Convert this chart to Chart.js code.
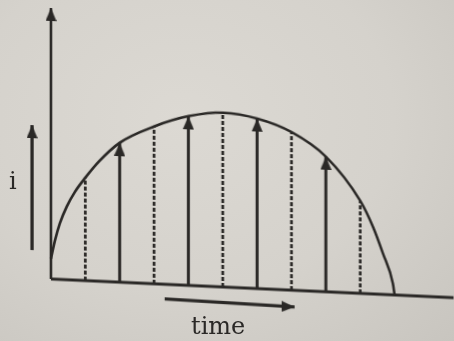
<!DOCTYPE html>
<html>
<head>
<meta charset="utf-8">
<title>Current against time</title>
<script src="https://cdn.jsdelivr.net/npm/chart.js@4.4.1/dist/chart.umd.min.js"></script>
<style>
  html, body { margin: 0; padding: 0; width: 454px; height: 341px; overflow: hidden; background: #d6d3cd; }
  #wrap {
    position: relative; width: 454px; height: 341px;
    background: radial-gradient(ellipse at 40% 35%, #dcd9d3 0%, #d5d2cc 55%, #c8c5bf 100%);
  }
  /* the page sits a little crooked, so the plot is sheared to follow it */
  #plot { position: absolute; left: 0; top: 0; transform-origin: 51px 279px; transform: skewY(2.66deg); }
  .lbl { position: absolute; font-family: "DejaVu Serif", serif; font-size: 24px; line-height: 1; color: #2a2826; }
</style>
</head>
<body>
<div id="wrap">
  <canvas id="plot" width="454" height="341"></canvas>
  <span class="lbl" style="left:9px; top:169px;">i</span>
  <span class="lbl" style="left:191px; top:314px;">time</span>
</div>
<script>
// sample instants along the time axis and the current reached at each
const lineTimes = [1, 2, 3, 4, 5, 6, 7, 8, 9];
const lineCurrents = [6.05, 8.2, 9.25, 9.95, 10.25, 10.0, 9.3, 7.95, 5.45];
const lineHasArrow = [false, true, false, true, false, true, false, true, false];

// extra readings of the current curve where it bends sharply
const startTimes = [0, 0.12, 0.26, 0.46, 0.7];
const startCurrents = [1.2, 2.3, 3.3, 4.3, 5.2];
const midTimes = [1.4];
const midCurrents = [7.05];
const endTimes = [9.37, 9.66, 9.95, 10];
const endCurrents = [3.96, 2.42, 0.68, 0];

// axes and the two direction arrows
const axisTop = 15.94;
const axisEnd = 11.8;
const iArrowTime = -0.55;
const iArrowFrom = 1.65;
const iArrowTo = 9.0;
const timeArrowTimes = [3.31, 7.09];
const timeArrowCurrents = [-0.86, -0.98];

const INK = '#2a2826';

// arrow head: tip sits at the centre of the image so it lands on the data point
function makeHead(w, h) {
  const c = document.createElement('canvas');
  c.width = w;
  c.height = h * 2;
  const g = c.getContext('2d');
  g.fillStyle = INK;
  g.beginPath();
  g.moveTo(w / 2, h);
  g.lineTo(w, h * 2);
  g.lineTo(0, h * 2);
  g.closePath();
  g.fill();
  return c;
}
const head = makeHead(11, 13);

function arrow(points, width, rotation) {
  return {
    data: points,
    showLine: true,
    borderColor: INK,
    borderWidth: width,
    borderCapStyle: 'butt',
    pointStyle: head,
    pointRadius: points.map((p, k) => (k === points.length - 1 ? 5 : 0)),
    pointRotation: rotation || 0,
    clip: false
  };
}

const datasets = [];

// current curve, merged in time order
const curvePts = [];
startTimes.forEach((t, k) => curvePts.push({ x: t, y: startCurrents[k] }));
midTimes.forEach((t, k) => curvePts.push({ x: t, y: midCurrents[k] }));
lineTimes.forEach((t, k) => curvePts.push({ x: t, y: lineCurrents[k] }));
endTimes.forEach((t, k) => curvePts.push({ x: t, y: endCurrents[k] }));
curvePts.sort((a, b) => a.x - b.x);
datasets.push({
  data: curvePts,
  showLine: true,
  borderColor: INK,
  borderWidth: 2.6,
  cubicInterpolationMode: 'monotone',
  pointRadius: 0
});

// instantaneous values: solid arrows and dashed ordinates
lineTimes.forEach((t, k) => {
  const pts = [{ x: t, y: 0 }, { x: t, y: lineCurrents[k] }];
  if (lineHasArrow[k]) {
    datasets.push(arrow(pts, 3));
  } else {
    datasets.push({
      data: pts,
      showLine: true,
      borderColor: INK,
      borderWidth: 2.7,
      borderDash: [4, 2],
      pointRadius: 0
    });
  }
});

// time axis
datasets.push({
  data: [{ x: 0, y: 0 }, { x: axisEnd, y: 0 }],
  showLine: true,
  borderColor: INK,
  borderWidth: 3,
  pointRadius: 0
});
// current axis
datasets.push(arrow([{ x: 0, y: 0 }, { x: 0, y: axisTop }], 2.6));
// "i" direction arrow
datasets.push(arrow([{ x: iArrowTime, y: iArrowFrom }, { x: iArrowTime, y: iArrowTo }], 3.3));
// "time" direction arrow
datasets.push(arrow(timeArrowTimes.map((t, k) => ({ x: t, y: timeArrowCurrents[k] })), 3.3, 90));

new Chart(document.getElementById('plot'), {
  type: 'scatter',
  data: { datasets },
  options: {
    responsive: false,
    animation: false,
    devicePixelRatio: 1,
    events: [],
    layout: { padding: 0, autoPadding: false },
    plugins: { legend: { display: false }, tooltip: { enabled: false } },
    scales: {
      x: { type: 'linear', min: -1.4826, max: 11.715, display: false },
      y: { type: 'linear', min: -3.647, max: 16.412, display: false }
    }
  }
});
</script>
</body>
</html>
